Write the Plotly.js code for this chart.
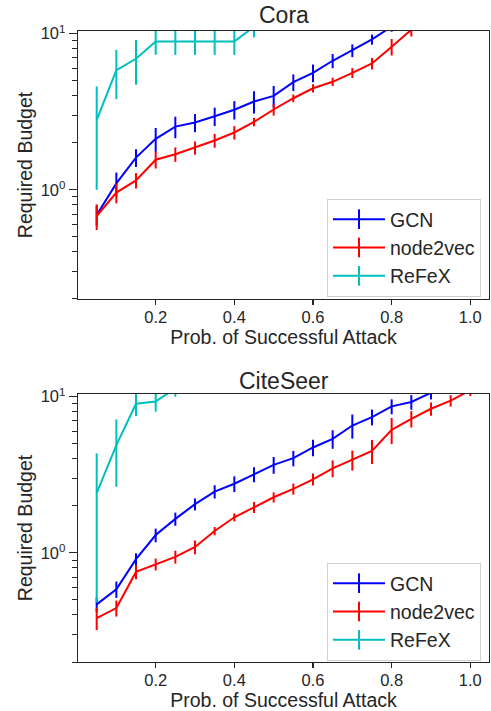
<!DOCTYPE html>
<html><head><meta charset="utf-8">
<script src="https://cdn.plot.ly/plotly-3.0.1.min.js"></script>
<style>html,body{margin:0;padding:0;background:#fff}#chart{width:491px;height:711px}</style>
</head><body><div id="chart"></div>
<script>
// x positions: probability of successful attack
const probs = [0.05,0.10,0.15,0.20,0.25,0.30,0.35,0.40,0.45,0.50,0.55,0.60,0.65,0.70,0.75,0.80,0.85,0.90,0.95,1.00];

// Cora
const coraGCN      = [0.69,1.10,1.61,2.12,2.54,2.70,2.96,3.26,3.68,4.00,4.89,5.61,6.71,7.81,9.19,11.1];
const coraGCNErr   = [0.10,0.19,0.21,0.37,0.40,0.36,0.40,0.44,0.60,0.63,0.60,0.73,0.70,0.73,0.68,0.80];
const coraN2V      = [0.68,0.96,1.15,1.56,1.69,1.86,2.07,2.33,2.72,3.27,3.86,4.47,4.92,5.61,6.45,8.25,10.6];
const coraN2VErr   = [0.127,0.14,0.13,0.19,0.18,0.18,0.21,0.23,0.17,0.28,0.22,0.27,0.30,0.41,0.55,1.00,1.00];
const coraReFeX    = [2.80,5.84,6.91,8.92,8.92,8.92,8.92,8.92,11.1];
const coraReFeXErr = [1.80,2.03,2.20,1.60,1.60,1.60,1.60,1.60,1.60];

// CiteSeer
const citeGCN      = [0.468,0.585,0.911,1.30,1.65,2.05,2.47,2.77,3.18,3.66,4.04,4.73,5.37,6.54,7.41,8.67,9.25,10.6];
const citeGCNErr   = [0.05,0.07,0.083,0.13,0.16,0.18,0.24,0.32,0.35,0.45,0.46,0.58,0.73,1.15,0.86,0.95,1.00,1.00];
const citeN2V      = [0.382,0.443,0.755,0.846,0.943,1.09,1.38,1.69,1.96,2.27,2.57,2.96,3.48,3.94,4.50,6.14,7.22,8.37,9.43,11.0];
const citeN2VErr   = [0.062,0.052,0.078,0.074,0.09,0.11,0.085,0.10,0.16,0.17,0.21,0.26,0.43,0.58,0.79,1.17,0.87,0.82,0.80,0.90];
const citeReFeX    = [2.41,4.90,9.02,9.33,11.3];
const citeReFeXErr = [1.93,2.25,1.50,1.30,1.30];

// Labels and ticks
const seriesNames = ['GCN','node2vec','ReFeX'];
const panelTitles = ['Cora','CiteSeer'];
const xTickVals = [0.2,0.4,0.6,0.8,1.0];
const xTickText = ['0.2','0.4','0.6','0.8','1.0'];
const yTickVals = [1,10];
const yTickText = ['10<sup>0</sup>','10<sup>1</sup>'];
const yMinorVals = [0.2,0.3,0.4,0.5,0.6,0.7,0.8,0.9,2,3,4,5,6,7,8,9];
const xTitle = 'Prob. of Successful Attack';
const yTitle = 'Required Budget';

const COLORS = ['#0000ff','#ff0000','#00bfbf'];
const FONT = 'Liberation Sans, Arial, sans-serif';
const INK = '#262626';

function series(y, err, color, xa, ya) {
  return {x: probs.slice(0, y.length), y: y, type: 'scatter', mode: 'lines',
    line: {color: color, width: 2}, showlegend: false, xaxis: xa, yaxis: ya,
    error_y: {type: 'data', array: err, visible: true, color: color, thickness: 2, width: 0},
    hoverinfo: 'skip'};
}
function legendEntry(name, color, legend, xa, ya) {
  return {x: [null], y: [null], type: 'scatter', mode: 'lines+markers', name: name,
    legend: legend, xaxis: xa, yaxis: ya,
    line: {color: color, width: 2},
    marker: {symbol: 'line-ns', size: 14, color: color, line: {color: color, width: 2}}};
}

const data = [
  series(coraGCN, coraGCNErr, COLORS[0], 'x', 'y'),
  series(coraN2V, coraN2VErr, COLORS[1], 'x', 'y'),
  series(coraReFeX, coraReFeXErr, COLORS[2], 'x', 'y'),
  series(citeGCN, citeGCNErr, COLORS[0], 'x2', 'y2'),
  series(citeN2V, citeN2VErr, COLORS[1], 'x2', 'y2'),
  series(citeReFeX, citeReFeXErr, COLORS[2], 'x2', 'y2'),
];
seriesNames.forEach((n, i) => data.push(legendEntry(n, COLORS[i], 'legend', 'x', 'y')));
seriesNames.forEach((n, i) => data.push(legendEntry(n, COLORS[i], 'legend2', 'x2', 'y2')));

function xaxis(anchor) {
  return {anchor: anchor, domain: [0, 1], range: [0.0025, 1.0475],
    tickmode: 'array', tickvals: xTickVals, ticktext: xTickText,
    ticks: 'outside', ticklen: 5, tickwidth: 1.25, tickcolor: INK,
    ticklabelstandoff: -2,
    showline: true, linecolor: INK, linewidth: 1.25, mirror: true,
    showgrid: false, zeroline: false, tickfont: {size: 16.5, color: INK},
    title: {text: xTitle, font: {size: 19.5, color: INK}, standoff: 5}};
}
function yaxis(anchor, domain) {
  return {anchor: anchor, domain: domain, type: 'log',
    range: [Math.log10(0.2), 1.0173],
    tickmode: 'array', tickvals: yTickVals, ticktext: yTickText,
    ticks: 'outside', ticklen: 8, tickwidth: 1.25, tickcolor: INK,
    minor: {tickmode: 'array', tickvals: yMinorVals, ticks: 'outside', ticklen: 4.5, tickwidth: 1, tickcolor: INK, showgrid: false},
    showline: true, linecolor: INK, linewidth: 1.25, mirror: true,
    showgrid: false, zeroline: false, tickfont: {size: 16.5, color: INK},
    title: {text: yTitle, font: {size: 19.5, color: INK}, standoff: 2}};
}
function legend(ytop) {
  return {x: 0.9805, xanchor: 'right', y: ytop, yanchor: 'top',
    bgcolor: '#ffffff', bordercolor: '#d0d0d0', borderwidth: 1,
    font: {size: 19.5, color: INK}, itemwidth: 52, tracegroupgap: 0};
}

const layout = {
  width: 491, height: 711,
  margin: {l: 78, r: 2, t: 31, b: 49},
  paper_bgcolor: '#ffffff', plot_bgcolor: '#ffffff',
  font: {family: FONT, color: INK},
  showlegend: true,
  xaxis: xaxis('y'), yaxis: yaxis('x', [0.5753, 1]),
  xaxis2: xaxis('y2'), yaxis2: yaxis('x2', [0, 0.4247]),
  legend: legend(0.7338), legend2: legend(0.1569),
  annotations: [
    {text: panelTitles[0], xref: 'paper', yref: 'paper', x: 0.5, y: 1.0254, xanchor: 'center', yanchor: 'middle', showarrow: false, font: {size: 23, color: INK}},
    {text: panelTitles[1], xref: 'paper', yref: 'paper', x: 0.5, y: 0.4453, xanchor: 'center', yanchor: 'middle', showarrow: false, font: {size: 23, color: INK}}
  ]
};

Plotly.newPlot('chart', data, layout, {displayModeBar: false, staticPlot: true});
</script></body></html>
